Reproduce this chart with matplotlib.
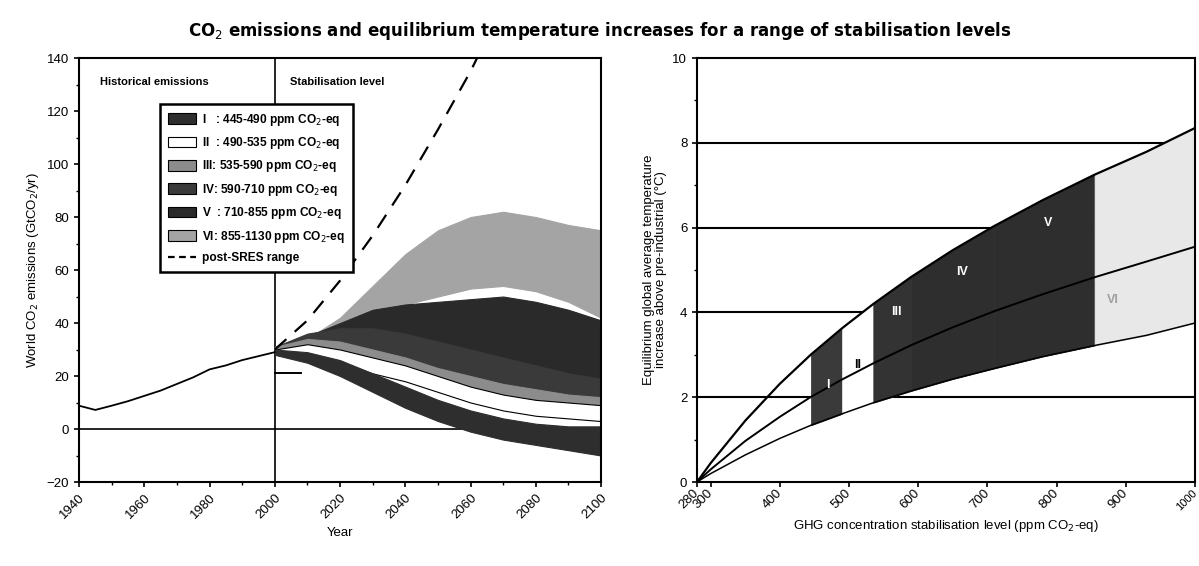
import numpy as np
import matplotlib.pyplot as plt
from matplotlib.patches import Patch
from matplotlib.lines import Line2D

plt.rcParams['font.family'] = ['Liberation Sans', 'DejaVu Sans']

# ---------------- left panel data ----------------
hist_years = [1940, 1945, 1950, 1955, 1960, 1965, 1970, 1975, 1980, 1985, 1990, 1995, 2000]
hist_emis = [8.8, 7.2, 8.8, 10.5, 12.5, 14.5, 17.0, 19.5, 22.5, 24.0, 26.0, 27.5, 29.0]

sres_years = [2000, 2010, 2020, 2030, 2040, 2050, 2060, 2062]
sres_upper = [30, 41, 56, 73, 92, 113, 135, 140]
sres_low_years = [2000, 2008]
sres_low = [21, 21]

years = [2000, 2010, 2020, 2030, 2040, 2050, 2060, 2070, 2080, 2090, 2100]
cat_names = ['I', 'II', 'III', 'IV', 'V', 'VI']
cat_labels = ['I   : 445-490 ppm CO$_2$-eq', 'II  : 490-535 ppm CO$_2$-eq',
              'III: 535-590 ppm CO$_2$-eq', 'IV: 590-710 ppm CO$_2$-eq',
              'V  : 710-855 ppm CO$_2$-eq', 'VI: 855-1130 ppm CO$_2$-eq']
cat_upper = {
    'VI': [31, 34, 42, 54, 66, 75, 80, 82, 80, 77, 75],
    'V': [31, 35, 40, 45, 47, 48, 49, 50, 48, 45, 41],
    'IV': [31, 36, 38, 38, 36, 33, 30, 27, 24, 21, 19],
    'III': [31, 34, 33, 30, 27, 23, 20, 17, 15, 13, 12],
    'II': [30, 32, 30, 27, 24, 20, 16, 13, 11, 10, 9],
    'I': [30, 29, 26, 21, 16, 11, 7, 4, 2, 1, 1],
}
cat_lower = {
    'VI': [31, 34, 40, 44, 47, 50, 53, 54, 52, 48, 42],
    'V': [30, 33, 33, 32, 30, 27, 24, 20, 17, 14, 11],
    'IV': [30, 31, 30, 27, 24, 20, 17, 15, 13, 12, 11],
    'III': [30, 30, 28, 25, 21, 17, 14, 12, 10, 9, 9],
    'II': [29, 28, 25, 21, 18, 14, 10, 7, 5, 4, 3],
    'I': [28, 25, 20, 14, 8, 3, -1, -4, -6, -8, -10],
}

# ---------------- right panel data ----------------
conc = [280, 300, 350, 400, 445, 490, 535, 590, 650, 710, 780, 855, 930, 1000]
temp_high = [0, 0.45, 1.45, 2.32, 3.01, 3.63, 4.20, 4.84, 5.47, 6.04, 6.65, 7.25, 7.79, 8.35]
temp_best = [0, 0.30, 0.97, 1.54, 2.01, 2.42, 2.80, 3.23, 3.65, 4.03, 4.43, 4.83, 5.20, 5.55]
temp_low = [0, 0.20, 0.64, 1.03, 1.34, 1.61, 1.87, 2.15, 2.43, 2.68, 2.96, 3.22, 3.46, 3.75]
cat_bounds = [445, 490, 535, 590, 710, 855, 1000]

left_colors = {'I': '#2e2e2e', 'II': 'white', 'III': '#8c8c8c', 'IV': '#3a3a3a',
               'V': '#2a2a2a', 'VI': '#a4a4a4'}
right_colors = {'I': '#3a3a3a', 'II': 'white', 'III': '#333333', 'IV': '#2e2e2e',
                'V': '#2e2e2e', 'VI': '#e8e8e8'}

fig = plt.figure(figsize=(11.99, 5.66), dpi=100)
fig.suptitle('CO$_2$ emissions and equilibrium temperature increases for a range of stabilisation levels',
             fontsize=12, fontweight='bold', y=0.965, family=['DejaVu Sans'])

# ================= left =================
ax = fig.add_axes([0.0659, 0.1484, 0.4354, 0.749])
for name in ['VI', 'V', 'IV', 'III', 'II', 'I']:
    ec = 'black' if name == 'II' else left_colors[name]
    ax.fill_between(years, cat_lower[name], cat_upper[name], facecolor=left_colors[name],
                    edgecolor=ec, linewidth=0.8, zorder=2)
ax.plot(hist_years, hist_emis, color='black', lw=1.3, zorder=3)
ax.plot(sres_years, sres_upper, color='black', lw=1.6, dashes=(7, 5), zorder=3)
ax.plot(sres_low_years, sres_low, color='black', lw=1.4, zorder=3)
ax.axhline(0, color='black', lw=1.2, zorder=1)
ax.axvline(2000, color='black', lw=1.2, zorder=1)

ax.set_xlim(1940, 2100)
ax.set_ylim(-20, 140)
ax.set_xticks(np.arange(1940, 2101, 20))
ax.set_xticks(np.arange(1940, 2101, 10), minor=True)
ax.set_yticks(np.arange(-20, 141, 20))
ax.set_yticks(np.arange(-20, 141, 10), minor=True)
ax.tick_params(axis='x', labelrotation=45, labelsize=9.5, direction='out', width=1.2)
ax.tick_params(axis='y', labelsize=9.5, direction='out', width=1.2)
ax.tick_params(which='minor', direction='out', width=1)
for lab in ax.get_xticklabels():
    lab.set_ha('right')
    lab.set_rotation_mode('anchor')
for sp in ax.spines.values():
    sp.set_linewidth(1.5)
ax.set_xlabel('Year', fontsize=9.5)
ax.set_ylabel('World CO$_2$ emissions (GtCO$_2$/yr)', fontsize=9.5)
ax.text(0.04, 0.955, 'Historical emissions', transform=ax.transAxes, fontsize=8,
        fontweight='bold', va='top')
ax.text(0.405, 0.955, 'Stabilisation level', transform=ax.transAxes, fontsize=8,
        fontweight='bold', va='top')

handles = []
for name, lab in zip(cat_names, cat_labels):
    handles.append(Patch(facecolor=left_colors[name], edgecolor='black', lw=0.8, label=lab))
handles.append(Line2D([0], [0], color='black', lw=1.6, dashes=(3, 2), label='post-SRES range'))
leg = ax.legend(handles=handles, loc='upper left', bbox_to_anchor=(0.155, 0.892),
                fontsize=8.6, frameon=True, fancybox=False, edgecolor='black',
                handlelength=2.4, handleheight=1.0, labelspacing=0.62, borderpad=0.65,
                handletextpad=0.5, framealpha=1, borderaxespad=0)
leg.get_frame().set_linewidth(1.8)
for t in leg.get_texts():
    t.set_fontweight('bold')
leg.set_zorder(5)

# ================= right =================
ax2 = fig.add_axes([0.5813, 0.1484, 0.4153, 0.749])
for g in [2, 4, 6, 8]:
    ax2.axhline(g, color='black', lw=1.5, zorder=1)
for i, name in enumerate(cat_names):
    x0, x1 = cat_bounds[i], cat_bounds[i + 1]
    i0, i1 = conc.index(x0), conc.index(x1)
    ax2.fill_between(conc[i0:i1 + 1], temp_low[i0:i1 + 1], temp_high[i0:i1 + 1],
                     facecolor=right_colors[name], edgecolor=right_colors[name],
                     linewidth=0.6, zorder=2)
ax2.plot(conc, temp_high, color='black', lw=1.6, zorder=3)
ax2.plot(conc, temp_best, color='black', lw=1.4, zorder=3)
ax2.plot(conc, temp_low, color='black', lw=1.1, zorder=3)

lab_pos = [(469, 2.3, 'white'), (513, 2.75, 'black'), (568, 4.0, 'white'),
           (664, 4.95, 'white'), (787, 6.1, 'white'), (881, 4.3, '#a0a0a0')]
for name, (px, py, col) in zip(cat_names, lab_pos):
    ax2.text(px, py, name, color=col, fontsize=9, fontweight='bold',
             ha='center', va='center', zorder=4)

ax2.set_xlim(280, 1000)
ax2.set_ylim(0, 10)
ax2.set_xticks([280, 300, 400, 500, 600, 700, 800, 900, 1000])
ax2.set_yticks(np.arange(0, 11, 2))
ax2.set_yticks(np.arange(0, 11, 1), minor=True)
ax2.tick_params(axis='x', labelrotation=45, labelsize=9.5, direction='out', width=1.2)
ax2.tick_params(axis='y', labelsize=9.5, direction='out', width=1.2)
ax2.tick_params(which='minor', direction='out', width=1)
for lab in ax2.get_xticklabels():
    lab.set_ha('right')
    lab.set_va('center')
    lab.set_rotation_mode('anchor')
ax2.get_xticklabels()[-1].set_fontsize(8)
for sp in ax2.spines.values():
    sp.set_linewidth(1.5)
ax2.set_xlabel('GHG concentration stabilisation level (ppm CO$_2$-eq)', fontsize=9.5)
ax2.set_ylabel('Equilibrium global average temperature\nincrease above pre-industrial (°C)',
               fontsize=9.5, linespacing=1.0)

plt.savefig('out.png', dpi=100)
plt.close()
